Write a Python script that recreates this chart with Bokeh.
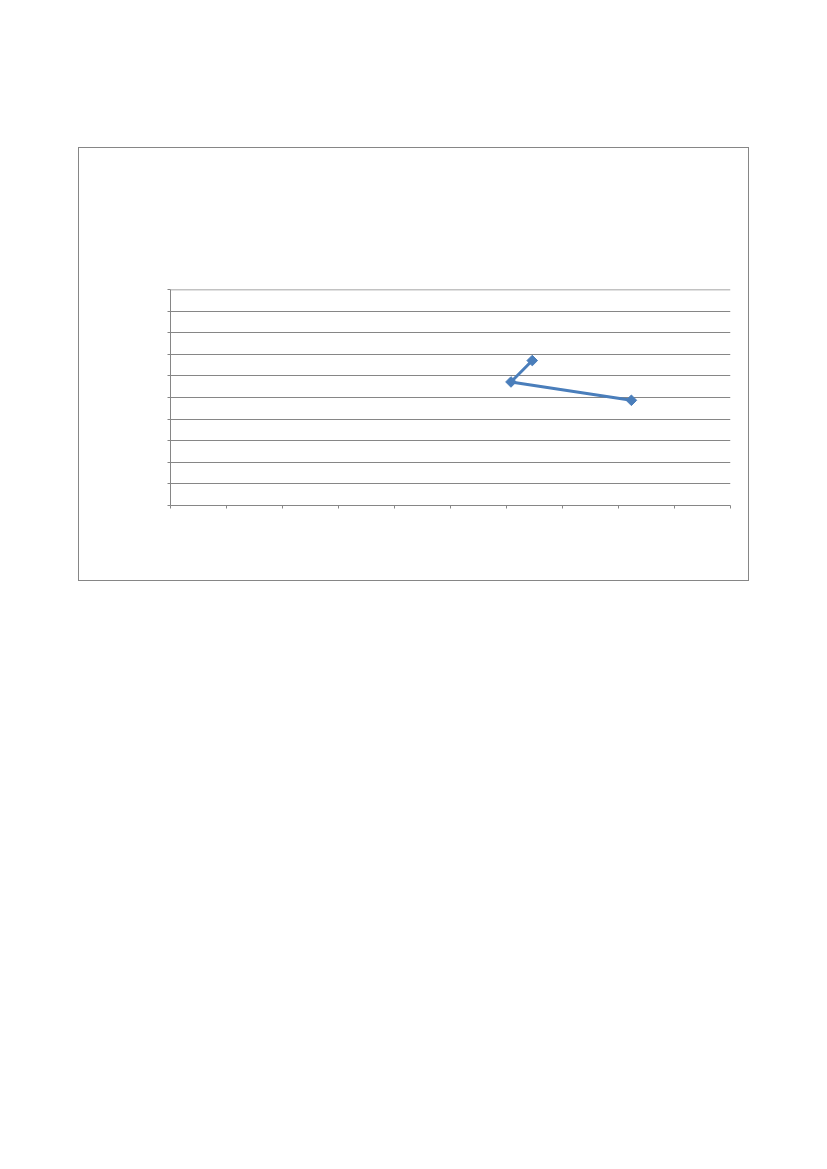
import math
from bokeh.plotting import figure
from bokeh.models import Range1d, FixedTicker, Span
from bokeh.embed import file_html
from bokeh.resources import INLINE

# data (axis units 0..10, no tick labels in the reference)
x_values = [6.46, 6.08, 8.23]
y_values = [6.71, 5.72, 4.87]
x_ticks = list(range(0, 11))
y_ticks = list(range(0, 11))

GREY = "#868686"
BLUE = "#4a7ebb"

p = figure(
    output_backend="svg", toolbar_location=None,
    frame_width=560, frame_height=216,
    min_border_left=91, min_border_right=18,
    min_border_top=141, min_border_bottom=75,
    x_range=Range1d(0, 10), y_range=Range1d(0, 10),
    background_fill_color="white", border_fill_color="white",
    outline_line_color=None,
    margin=(147, 0, 0, 78),
    styles={"border": f"1px solid {GREY}"},
)

for ax in (p.xaxis[0], p.yaxis[0]):
    ax.axis_line_color = GREY
    ax.axis_line_width = 1
    ax.major_tick_line_color = GREY
    ax.major_tick_in = 0
    ax.major_tick_out = 3
    ax.minor_tick_line_color = None
    ax.major_label_text_font_size = "0px"
    ax.major_label_standoff = 0

p.xaxis.ticker = FixedTicker(ticks=x_ticks)
p.yaxis.ticker = FixedTicker(ticks=y_ticks)
p.xaxis.major_label_overrides = {t: "" for t in x_ticks}
p.yaxis.major_label_overrides = {t: "" for t in y_ticks}

p.xgrid.grid_line_color = None
p.ygrid.grid_line_color = GREY
p.ygrid.grid_line_width = 1
p.ygrid.ticker = FixedTicker(ticks=y_ticks)
p.add_layout(Span(location=y_ticks[-1], dimension="width",
                  line_color=GREY, line_width=1.5))

p.line(x_values, y_values, line_color=BLUE, line_width=3)
p.scatter(x_values, y_values, marker="square", size=7.5, angle=math.pi / 4,
          fill_color=BLUE, line_color=BLUE)

open("out.html", "w").write(file_html(p, INLINE))
